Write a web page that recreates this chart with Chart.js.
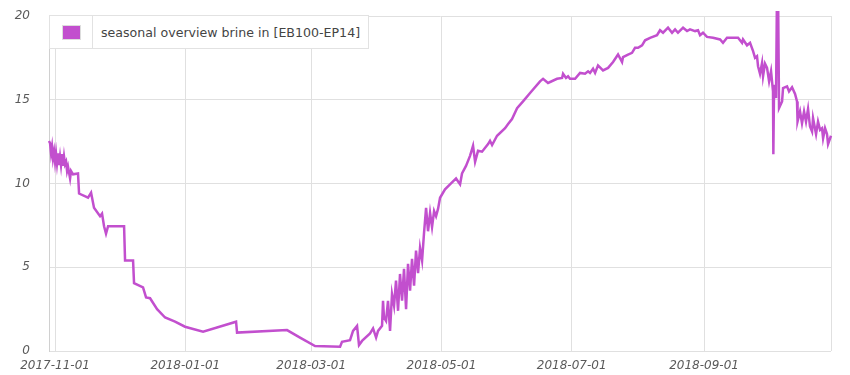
<!DOCTYPE html>
<html>
<head>
<meta charset="utf-8">
<script src="https://cdn.jsdelivr.net/npm/chart.js@4.4.1/dist/chart.umd.min.js"></script>
<style>
  body { margin: 0; background: #fff; }
  #wrap { position: relative; width: 850px; height: 375px; }
  #legend {
    position: absolute; left: 49px; top: 15px;
    background: #fff;
    font-family: "DejaVu Sans", Verdana, sans-serif; font-size: 12.6px; color: #444;
  }
  #legend table { border-collapse: collapse; }
  #legend td { border: 1px solid #e2e2e2; height: 32px; padding: 0; }
  #legend td.sw { width: 42px; text-align: center; }
  #legend td.sw span {
    display: inline-block; width: 17px; height: 13px; vertical-align: middle;
    background: #c24fce; border: 1px solid #ddd;
  }
  #legend td.txt { padding: 0 8px 0 8px; }
</style>
</head>
<body>
<div id="wrap">
  <canvas id="myChart" width="850" height="375"></canvas>
  <div id="legend"><table><tr><td class="sw"><span></span></td><td class="txt">seasonal overview brine in [EB100-EP14]</td></tr></table></div>
</div>
<script>
let seriesLabel = 'seasonal overview brine in [EB100-EP14]';
let tickDates = ['2017-11-01', '2018-01-01', '2018-03-01', '2018-05-01', '2018-07-01', '2018-09-01'];
let yTicks = [0, 5, 10, 15, 20];

let dates = [
  '2017-10-29 04', '2017-10-29 16', '2017-10-30 03', '2017-10-30 14', '2017-10-31 01', '2017-10-31 13',
  '2017-11-01 00', '2017-11-01 11', '2017-11-01 22', '2017-11-02 10', '2017-11-02 21', '2017-11-03 08',
  '2017-11-03 19', '2017-11-04 07', '2017-11-04 18', '2017-11-05 05', '2017-11-05 16', '2017-11-06 04',
  '2017-11-06 15', '2017-11-07 02', '2017-11-08 01', '2017-11-08 12', '2017-11-09 10', '2017-11-11 18',
  '2017-11-12 06', '2017-11-16 11', '2017-11-17 21', '2017-11-19 06', '2017-11-22 02', '2017-11-23 00',
  '2017-11-23 23', '2017-11-24 21', '2017-11-25 20', '2017-12-03 08', '2017-12-03 19', '2017-12-07 13',
  '2017-12-08 00', '2017-12-12 05', '2017-12-13 15', '2017-12-15 12', '2017-12-18 19', '2017-12-22 13',
  '2017-12-27 05', '2017-12-31 21', '2018-01-09 08', '2018-01-24 19', '2018-01-25 06', '2018-02-17 16',
  '2018-02-23 18', '2018-03-02 19', '2018-03-14 12', '2018-03-15 10', '2018-03-19 04', '2018-03-20 14',
  '2018-03-22 11', '2018-03-23 09', '2018-03-24 19', '2018-03-28 13', '2018-03-29 23', '2018-03-31 09',
  '2018-04-01 07', '2018-04-03 04', '2018-04-03 15', '2018-04-04 02', '2018-04-05 01', '2018-04-05 23',
  '2018-04-06 22', '2018-04-07 20', '2018-04-08 19', '2018-04-09 17', '2018-04-10 16', '2018-04-11 14',
  '2018-04-12 13', '2018-04-13 11', '2018-04-14 10', '2018-04-15 08', '2018-04-16 07', '2018-04-17 05',
  '2018-04-18 04', '2018-04-19 02', '2018-04-20 01', '2018-04-20 23', '2018-04-21 22', '2018-04-22 20',
  '2018-04-23 19', '2018-04-24 17', '2018-04-25 16', '2018-04-26 14', '2018-04-27 13', '2018-04-28 11',
  '2018-04-29 10', '2018-04-30 08', '2018-05-02 16', '2018-05-05 00', '2018-05-07 20', '2018-05-09 17',
  '2018-05-10 15', '2018-05-12 12', '2018-05-14 09', '2018-05-15 19', '2018-05-16 18', '2018-05-18 03',
  '2018-05-20 00', '2018-05-22 20', '2018-05-23 18', '2018-05-24 17', '2018-05-27 01', '2018-05-30 19',
  '2018-06-01 05', '2018-06-03 01', '2018-06-05 10', '2018-06-08 05', '2018-06-11 12', '2018-06-16 04',
  '2018-06-17 14', '2018-06-19 22', '2018-06-24 03', '2018-06-26 12', '2018-06-26 23', '2018-06-28 08',
  '2018-06-29 07', '2018-06-30 05', '2018-07-02 14', '2018-07-04 22', '2018-07-07 06', '2018-07-08 16',
  '2018-07-09 14', '2018-07-11 00', '2018-07-11 23', '2018-07-13 08', '2018-07-15 16', '2018-07-18 01',
  '2018-07-20 09', '2018-07-22 17', '2018-07-24 14', '2018-07-25 01', '2018-07-27 09', '2018-07-29 06',
  '2018-07-30 16', '2018-08-01 02', '2018-08-02 23', '2018-08-04 09', '2018-08-06 17', '2018-08-09 23',
  '2018-08-11 09', '2018-08-12 19', '2018-08-15 03', '2018-08-17 00', '2018-08-18 10', '2018-08-19 19',
  '2018-08-22 04', '2018-08-24 01', '2018-08-25 10', '2018-08-27 19', '2018-08-29 04', '2018-08-30 03',
  '2018-08-31 12', '2018-09-02 09', '2018-09-05 05', '2018-09-08 12', '2018-09-09 21', '2018-09-11 18',
  '2018-09-16 22', '2018-09-18 19', '2018-09-19 06', '2018-09-21 03', '2018-09-22 13', '2018-09-23 23',
  '2018-09-24 21', '2018-09-25 19', '2018-09-26 07', '2018-09-27 05', '2018-09-28 04', '2018-09-28 15',
  '2018-09-29 13', '2018-09-30 12', '2018-10-01 11', '2018-10-02 09', '2018-10-03 07', '2018-10-03 11',
  '2018-10-03 19', '2018-10-04 17', '2018-10-05 10', '2018-10-06 03', '2018-10-07 13', '2018-10-08 00',
  '2018-10-09 21', '2018-10-10 19', '2018-10-12 05', '2018-10-13 15', '2018-10-14 13', '2018-10-14 19',
  '2018-10-15 23', '2018-10-16 21', '2018-10-17 20', '2018-10-18 18', '2018-10-19 17', '2018-10-20 15',
  '2018-10-21 14', '2018-10-22 01', '2018-10-23 11', '2018-10-24 09', '2018-10-25 08', '2018-10-26 06',
  '2018-10-26 18', '2018-10-27 16', '2018-10-28 14', '2018-10-29 02', '2018-10-30 11'
];

let brine = [
  12.54, 12.4, 11.8, 12.2, 11.5, 11.9,
  11.3, 11.8, 11.2, 11.8, 11.1, 11.6,
  11.1, 11.75, 11.05, 11.6, 11.15, 11.3,
  10.75, 11.0, 10.3, 10.75, 10.55, 10.6,
  9.4, 9.15, 9.45, 8.55, 8.05, 8.2,
  7.45, 7.0, 7.45, 7.45, 5.4, 5.4,
  4.05, 3.8, 3.2, 3.15, 2.5, 2.0,
  1.75, 1.45, 1.15, 1.75, 1.1, 1.25,
  0.8, 0.3, 0.25, 0.55, 0.65, 1.2,
  1.5, 0.35, 0.6, 1.05, 1.35, 0.8,
  1.2, 1.5, 3.0, 2.0, 1.8, 3.0,
  1.2, 3.4, 2.7, 4.2, 2.4, 4.6,
  3.0, 4.9, 2.5, 5.2, 3.6, 5.5,
  3.9, 6.0, 4.65, 6.15, 5.4, 7.05,
  8.55, 7.15, 8.25, 7.4, 8.35, 8.05,
  8.5, 9.15, 9.65, 9.95, 10.3, 9.95,
  10.6, 11.05, 11.65, 12.25, 11.3, 11.95,
  11.9, 12.35, 12.55, 12.3, 12.85, 13.3,
  13.55, 13.85, 14.5, 14.9, 15.4, 16.1,
  16.25, 16.0, 16.25, 16.3, 16.55, 16.3,
  16.4, 16.25, 16.25, 16.6, 16.55, 16.7,
  16.6, 16.85, 16.6, 17.05, 16.75, 16.9,
  17.25, 17.7, 17.25, 17.55, 17.7, 17.8,
  18.1, 18.1, 18.25, 18.55, 18.7, 18.85,
  19.15, 19.0, 19.3, 19.0, 19.2, 19.0,
  19.3, 19.1, 19.2, 19.1, 19.15, 18.85,
  19.0, 18.75, 18.7, 18.6, 18.4, 18.7,
  18.7, 18.4, 18.6, 18.25, 18.4, 17.9,
  17.5, 17.6, 17.0, 16.55, 17.2, 16.4,
  17.15, 16.9, 16.1, 16.7, 15.5, 11.75,
  15.9, 15.1, 25, 14.5, 14.9, 15.7,
  15.8, 15.5, 15.75, 15.35, 14.9, 13.7,
  14.3, 13.6, 14.3, 13.7, 14.45, 13.4,
  13.1, 13.9, 12.95, 13.7, 13.2, 13.3,
  12.7, 13.3, 12.95, 12.35, 12.85
];

function toTime(s) {
  let parts = s.split(' ');
  let d = parts[0].split('-').map(Number);
  return Date.UTC(d[0], d[1] - 1, d[2], parts[1] ? Number(parts[1]) : 0);
}

let points = dates.map((d, i) => ({ x: toTime(d), y: brine[i] }));

let tickFont = { family: '"DejaVu Sans", Verdana, sans-serif', size: 12, style: 'italic' };
let gridColor = '#e0e0e0';

// right hand frame line of the plot area
let frame = {
  id: 'frame',
  beforeDatasetsDraw(chart) {
    let a = chart.chartArea;
    let ctx = chart.ctx;
    ctx.save();
    ctx.strokeStyle = gridColor;
    ctx.lineWidth = 1;
    ctx.beginPath();
    ctx.moveTo(Math.round(a.right) + 0.5, a.top);
    ctx.lineTo(Math.round(a.right) + 0.5, a.bottom);
    ctx.stroke();
    ctx.restore();
  }
};

let mychart = document.getElementById('myChart').getContext('2d');

let chart = new Chart(mychart, {
  type: 'line',
  data: {
    datasets: [{
      label: seriesLabel,
      data: points,
      borderColor: '#c24fce',
      borderWidth: 2.5,
      pointRadius: 0,
      tension: 0,
      fill: false,
      clip: { left: 2, top: 5, right: 2, bottom: 2 }
    }]
  },
  options: {
    responsive: false,
    animation: false,
    layout: { padding: { left: 0, right: 19, top: 16, bottom: 0 } },
    plugins: {
      legend: { display: false },
      tooltip: { enabled: false }
    },
    scales: {
      x: {
        type: 'linear',
        min: points[0].x,
        max: points[points.length - 1].x,
        afterBuildTicks: (scale) => {
          scale.ticks = tickDates.map(d => ({ value: toTime(d) }));
        },
        afterFit: (scale) => { scale.height = 24; },
        ticks: {
          autoSkip: false,
          maxRotation: 0,
          padding: 8,
          color: '#5a5a5a',
          font: tickFont,
          callback: (v) => new Date(v).toISOString().slice(0, 10)
        },
        grid: { color: gridColor, drawTicks: false },
        border: { display: false }
      },
      y: {
        min: 0,
        max: 20,
        afterBuildTicks: (scale) => {
          scale.ticks = yTicks.map(v => ({ value: v }));
        },
        afterFit: (scale) => {
          scale.width = 49;
          scale.paddingTop = 0;
          scale.paddingBottom = 0;
        },
        ticks: {
          padding: 19,
          color: '#5a5a5a',
          font: tickFont
        },
        grid: { color: gridColor, drawTicks: false },
        border: { display: true, color: '#d0d0d0' }
      }
    }
  },
  plugins: [frame]
});
</script>
</body>
</html>
